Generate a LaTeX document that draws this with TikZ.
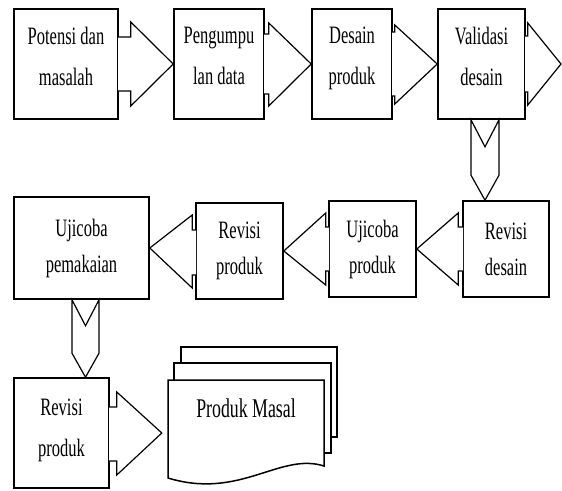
\documentclass[tikz,border=0pt]{standalone}
\usepackage{fontspec}
\setmainfont{Liberation Serif}[FakeStretch=0.66]
\usetikzlibrary{calc}

\begin{document}
\begin{tikzpicture}[x=1pt, y=-1pt,
        stage/.style={draw, line width=1.6pt, align=center, inner sep=0pt,
                      font=\fontsize{25}{41}\selectfont},
        stagelow/.style={stage, font=\fontsize{25}{36}\selectfont},
        blockarrow/.style={draw, line width=1.2pt, fill=white},
        docline/.style={draw, line width=1.5pt, fill=white},
        masal/.style={minimum width=156, inner sep=0pt,
                      font=\fontsize{27}{30}\selectfont}]
    \useasboundingbox (0,0) rectangle (562,490);
    \node[stage, minimum width=104, minimum height=110, text depth=16pt] (p1) at (66,64) {Potensi dan\\masalah};
    \node[stage, minimum width=90, minimum height=110, text depth=16pt] (p2) at (219,64) {Pengumpu\\lan data};
    \node[stage, minimum width=80, minimum height=110, text depth=16pt] (p3) at (352,64) {Desain\\produk};
    \node[stage, minimum width=87, minimum height=110, text depth=16pt] (p4) at (481.5,64) {Validasi\\desain};
    \coordinate (vtip) at (561,64);
    \node[stagelow, minimum width=86, minimum height=96] (r1) at (506,249) {Revisi\\desain};
    \node[stagelow, minimum width=87, minimum height=96] (r2) at (372.5,249) {Ujicoba\\produk};
    \node[stagelow, minimum width=87, minimum height=96] (r3) at (239.5,251) {Revisi\\produk};
    \node[stagelow, minimum width=135, minimum height=102] (r4) at (81.5,248) {Ujicoba\\pemakaian};
    \node[stage, minimum width=95, minimum height=110, text depth=10pt] (s1) at (61.5,433) {Revisi\\produk};
    \draw[docline] (181,363) -- (181,347) -- (337,347) -- (337,437) -- (331,437);
    \draw[docline] (174,380) -- (174,363) -- (331,363) -- (331,453) -- (324,453);
    \draw[docline] (168,380) -- (324,380) -- (324,466)
        .. controls (280,452) and (240,500) .. (168,478) -- cycle;
    \node[masal] (s2) at (246,408) {Produk Masal};
    \draw[blockarrow] ($(p1.east)+(-0.8,-27)$) -- ++(12.8,0) -- ++(0,-15) -- (p2.west)
        -- ($(p1.east)+(12,42)$) -- ++(0,-15) -- ++(-12.8,0);
    \draw[blockarrow] ($(p2.east)+(-0.8,-30)$) -- ++(4.8,0) -- ++(0,-11) -- (p3.west)
        -- ($(p2.east)+(4,42)$) -- ++(0,-12) -- ++(-4.8,0);
    \draw[blockarrow] ($(p3.east)+(-0.8,-32)$) -- ++(2.8,0) -- ++(0,-7) -- (p4.west)
        -- ($(p3.east)+(2,40)$) -- ++(0,-8) -- ++(-2.8,0);
    \draw[blockarrow] ($(p4.east)+(-0.8,-28)$) -- ++(2.8,0) -- ++(0,-13) -- (vtip)
        -- ($(p4.east)+(2,41)$) -- ++(0,-13) -- ++(-2.8,0);
    \coordinate (d1) at ($(p4.south)+(3.5,0)$);
    \draw[blockarrow] ($(d1)+(-14,0)$) -- ($(d1)+(0,27)$) -- ($(d1)+(14,0)$)
        -- ($(d1 |- r1.north)+(14,-25)$) -- (d1 |- r1.north)
        -- ($(d1 |- r1.north)+(-14,-25)$) -- cycle;
    \draw[blockarrow] ($(r1.west)+(0.8,-22)$) -- ++(-4.8,0) -- ++(0,-14) -- (r2.east)
        -- ($(r1.west)+(-4,36)$) -- ++(0,-14) -- ++(4.8,0);
    \draw[blockarrow] ($(r2.west)+(0.8,-22)$) -- ++(-3.3,0) -- ++(0,-14) -- (r3.east)
        -- ($(r2.west)+(-2.5,36)$) -- ++(0,-14) -- ++(3.3,0);
    \draw[blockarrow] ($(r3.west)+(0.8,-21)$) -- ++(-3.8,0) -- ++(0,-15) -- (r4.east)
        -- ($(r3.west)+(-3,37)$) -- ++(0,-13) -- ++(3.8,0);
    \coordinate (d2) at ($(r4.south)+(4,0)$);
    \draw[blockarrow] ($(d2)+(-13.5,0)$) -- ($(d2)+(0,26)$) -- ($(d2)+(13.5,0)$)
        -- ($(d2 |- s1.north)+(13.5,-24)$) -- (d2 |- s1.north)
        -- ($(d2 |- s1.north)+(-13.5,-24)$) -- cycle;
    \draw[blockarrow] ($(s1.east)+(-0.8,-26)$) -- ++(7.8,0) -- ++(0,-15) -- ($(s2.west |- s1.east)+(-6,0)$)
        -- ($(s1.east)+(7,42)$) -- ++(0,-14) -- ++(-7.8,0);
\end{tikzpicture}
\end{document}
